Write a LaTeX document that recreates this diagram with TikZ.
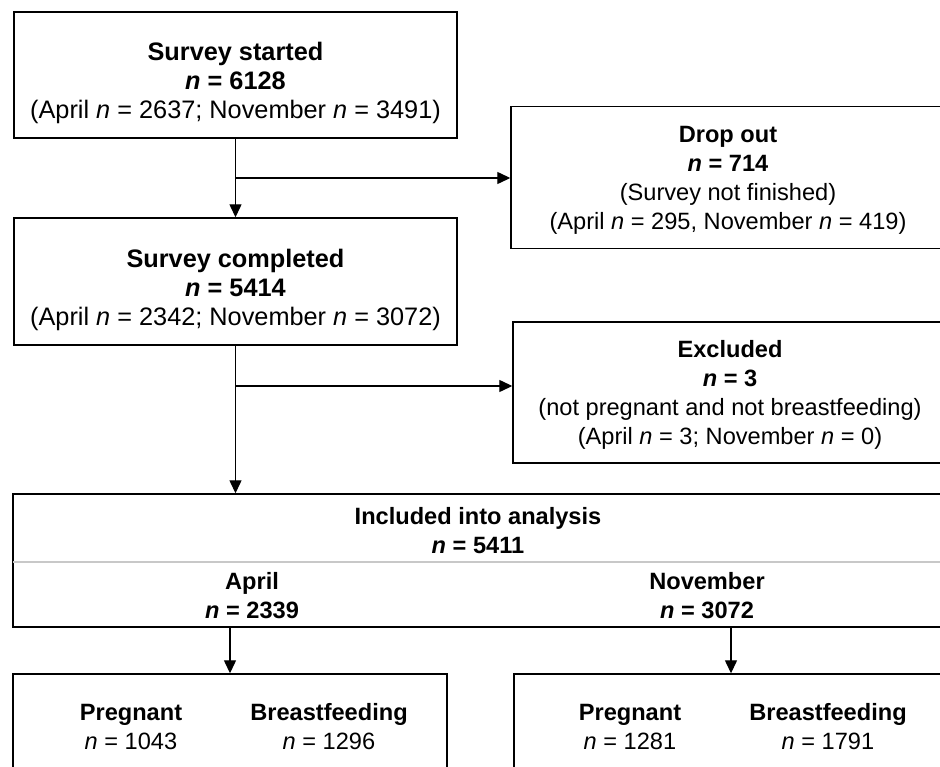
\documentclass[tikz,border=0pt]{standalone}
\usepackage{fontspec}
\setmainfont{Liberation Sans}
\usetikzlibrary{arrows.meta}
\newcommand\figfont{\fontsize{23.6pt}{29pt}\selectfont}
\newcommand\bigfigfont{\fontsize{25.3pt}{29pt}\selectfont}
\definecolor{sepgray}{RGB}{200,200,200}
\begin{document}
\begin{tikzpicture}[x=1pt,y=-1pt,
  box/.style={draw, line width=1.4pt, inner sep=0pt},
  txt/.style={inner sep=0pt, align=center, font=\figfont},
  bigtxt/.style={inner sep=0pt, align=center, font=\bigfigfont},
  arr/.style={line width=1.3pt, -{Triangle[length=13pt,width=12pt]}}]
\useasboundingbox (0,0) rectangle (940,767);
\clip (0,0) rectangle (940,767);
\fill[white] (0,0) rectangle (940,767);

% boxes
\node[box, minimum width=443pt, minimum height=126pt] (start) at (235.5,75) {};
\node[box, minimum width=443pt, minimum height=127pt] (done) at (235.5,281.5) {};
\node[box, minimum width=434pt, minimum height=142pt] (drop) at (728,177.5) {};
\node[box, minimum width=434pt, minimum height=141pt] (excl) at (730,392.5) {};
\node[box, minimum width=930pt, minimum height=133pt] (incl) at (478,560.5) {};
\node[box, minimum width=434pt, minimum height=120pt] (lbox) at (230,734) {};
\node[box, minimum width=434pt, minimum height=120pt] (rbox) at (731,734) {};

% texts
\node[bigtxt] (starttxt) at ([yshift=-8pt]start.center)
  {\textbf{Survey started}\\ \textbf{\textit{n} = 6128}\\ (April \textit{n} = 2637; November \textit{n} = 3491)};
\node[bigtxt] (donetxt) at ([yshift=-8pt]done.center)
  {\textbf{Survey completed}\\ \textbf{\textit{n} = 5414}\\ (April \textit{n} = 2342; November \textit{n} = 3072)};
\node[txt] (droptxt) at ([yshift=-3pt]drop.center)
  {\textbf{Drop out}\\ \textbf{\textit{n} = 714}\\ (Survey not finished)\\ (April \textit{n} = 295, November \textit{n} = 419)};
\node[txt] (excltxt) at ([yshift=-2pt]excl.center)
  {\textbf{Excluded}\\ \textbf{\textit{n} = 3}\\ (not pregnant and not breastfeeding)\\ (April \textit{n} = 3; November \textit{n} = 0)};

\coordinate (gl) at (0,562);
\draw[sepgray, line width=1.2pt, shorten <=0.7pt, shorten >=0.7pt] (incl.west |- gl) -- (incl.east |- gl);
\node[txt] (inclhead) at (478,531) {\textbf{Included into analysis}\\ \textbf{\textit{n} = 5411}};
\node[txt] (april) at (252,596) {\textbf{April}\\ \textbf{\textit{n} = 2339}};
\node[txt] (november) at (707,596) {\textbf{November}\\ \textbf{\textit{n} = 3072}};

\node[txt] (preg1) at (131,727) {\textbf{Pregnant}\\ \textit{n} = 1043};
\node[txt] (bf1) at (329,727) {\textbf{Breastfeeding}\\ \textit{n} = 1296};
\node[txt] (preg2) at (630,727) {\textbf{Pregnant}\\ \textit{n} = 1281};
\node[txt] (bf2) at (828,727) {\textbf{Breastfeeding}\\ \textit{n} = 1791};

% connectors
\draw[arr] (start.south) -- (done.north);
\coordinate (b1) at (235.5,178);
\draw[arr] (b1) -- (b1 -| drop.west);
\draw[arr] (done.south) -- (done.south |- incl.north);
\coordinate (b2) at (235.5,386);
\draw[arr] (b2) -- (b2 -| excl.west);
\draw[arr] (lbox.north |- incl.south) -- (lbox.north);
\draw[arr] (rbox.north |- incl.south) -- (rbox.north);
\end{tikzpicture}
\end{document}
